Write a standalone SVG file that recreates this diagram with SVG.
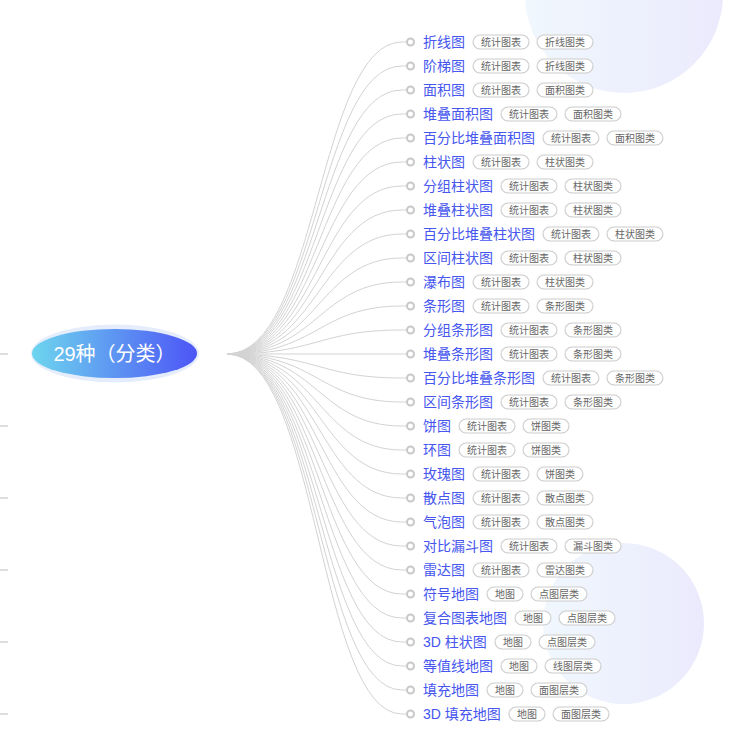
<svg xmlns="http://www.w3.org/2000/svg" width="737" height="736" viewBox="0 0 737 736">
<defs>
<linearGradient id="bg" x1="0" y1="0" x2="1" y2="0"><stop offset="0" stop-color="#f0f7fd"/><stop offset="1" stop-color="#ebeafd"/></linearGradient>
<linearGradient id="rootg" x1="0" y1="0" x2="1" y2="0"><stop offset="0" stop-color="#6dd5ee"/><stop offset="1" stop-color="#4d55f6"/></linearGradient>
<style>
.edge{fill:none;stroke:#d3d3d3;stroke-width:1}
.stub{stroke:#d3d3d3;stroke-width:1.5}
.dot{fill:#fff;stroke:#c8c8c8;stroke-width:2}
.lbl{font-family:"Liberation Sans","Noto Sans CJK SC",sans-serif;font-size:14px;fill:#4656ee;dominant-baseline:central}
.tag{fill:#fff;stroke:#cccccc;stroke-width:1.1}
.tt{font-family:"Liberation Sans","Noto Sans CJK SC",sans-serif;font-size:10px;fill:#666;text-anchor:middle;dominant-baseline:central}
</style>
</defs>
<rect width="737" height="736" fill="#fff"/>
<circle cx="624" cy="-6" r="99" fill="url(#bg)"/>
<circle cx="623.5" cy="623.5" r="80.5" fill="url(#bg)"/>
<g id="connectors">
<line class="stub" x1="0" y1="354" x2="8" y2="354"/>
<line class="stub" x1="0" y1="426" x2="8" y2="426"/>
<line class="stub" x1="0" y1="498" x2="8" y2="498"/>
<line class="stub" x1="0" y1="570" x2="8" y2="570"/>
<line class="stub" x1="0" y1="642" x2="8" y2="642"/>
<line class="stub" x1="0" y1="714" x2="8" y2="714"/>
<path class="edge" d="M227 354C318 354 318 42 402 42L407 42"/>
<path class="edge" d="M227 354C318 354 318 66 402 66L407 66"/>
<path class="edge" d="M227 354C318 354 318 90 402 90L407 90"/>
<path class="edge" d="M227 354C318 354 318 114 402 114L407 114"/>
<path class="edge" d="M227 354C318 354 318 138 402 138L407 138"/>
<path class="edge" d="M227 354C318 354 318 162 402 162L407 162"/>
<path class="edge" d="M227 354C318 354 318 186 402 186L407 186"/>
<path class="edge" d="M227 354C318 354 318 210 402 210L407 210"/>
<path class="edge" d="M227 354C318 354 318 234 402 234L407 234"/>
<path class="edge" d="M227 354C318 354 318 258 402 258L407 258"/>
<path class="edge" d="M227 354C318 354 318 282 402 282L407 282"/>
<path class="edge" d="M227 354C318 354 318 306 402 306L407 306"/>
<path class="edge" d="M227 354C318 354 318 330 402 330L407 330"/>
<path class="edge" d="M227 354L407 354"/>
<path class="edge" d="M227 354C318 354 318 378 402 378L407 378"/>
<path class="edge" d="M227 354C318 354 318 402 402 402L407 402"/>
<path class="edge" d="M227 354C318 354 318 426 402 426L407 426"/>
<path class="edge" d="M227 354C318 354 318 450 402 450L407 450"/>
<path class="edge" d="M227 354C318 354 318 474 402 474L407 474"/>
<path class="edge" d="M227 354C318 354 318 498 402 498L407 498"/>
<path class="edge" d="M227 354C318 354 318 522 402 522L407 522"/>
<path class="edge" d="M227 354C318 354 318 546 402 546L407 546"/>
<path class="edge" d="M227 354C318 354 318 570 402 570L407 570"/>
<path class="edge" d="M227 354C318 354 318 594 402 594L407 594"/>
<path class="edge" d="M227 354C318 354 318 618 402 618L407 618"/>
<path class="edge" d="M227 354C318 354 318 642 402 642L407 642"/>
<path class="edge" d="M227 354C318 354 318 666 402 666L407 666"/>
<path class="edge" d="M227 354C318 354 318 690 402 690L407 690"/>
<path class="edge" d="M227 354C318 354 318 714 402 714L407 714"/>
</g>
<g id="root">
<ellipse cx="115" cy="353.5" rx="84" ry="29" fill="#e5edfc"/>
<ellipse cx="114.5" cy="353.5" rx="82.5" ry="24.5" fill="url(#rootg)"/>
<text x="114.5" y="354" text-anchor="middle" dominant-baseline="central" font-family="'Liberation Sans','Noto Sans CJK SC',sans-serif" font-size="20" fill="#fff">29种（分类）</text>
</g>
<g id="n1" transform="translate(0,42)"><circle class="dot" cx="410.5" cy="0" r="3.5"/><text class="lbl" x="423" y="0">折线图</text><rect class="tag" x="473" y="-7" width="56" height="14" rx="7"/><text class="tt" x="501" y="0">统计图表</text><rect class="tag" x="537" y="-7" width="56" height="14" rx="7"/><text class="tt" x="565" y="0">折线图类</text></g>
<g id="n2" transform="translate(0,66)"><circle class="dot" cx="410.5" cy="0" r="3.5"/><text class="lbl" x="423" y="0">阶梯图</text><rect class="tag" x="473" y="-7" width="56" height="14" rx="7"/><text class="tt" x="501" y="0">统计图表</text><rect class="tag" x="537" y="-7" width="56" height="14" rx="7"/><text class="tt" x="565" y="0">折线图类</text></g>
<g id="n3" transform="translate(0,90)"><circle class="dot" cx="410.5" cy="0" r="3.5"/><text class="lbl" x="423" y="0">面积图</text><rect class="tag" x="473" y="-7" width="56" height="14" rx="7"/><text class="tt" x="501" y="0">统计图表</text><rect class="tag" x="537" y="-7" width="56" height="14" rx="7"/><text class="tt" x="565" y="0">面积图类</text></g>
<g id="n4" transform="translate(0,114)"><circle class="dot" cx="410.5" cy="0" r="3.5"/><text class="lbl" x="423" y="0">堆叠面积图</text><rect class="tag" x="501" y="-7" width="56" height="14" rx="7"/><text class="tt" x="529" y="0">统计图表</text><rect class="tag" x="565" y="-7" width="56" height="14" rx="7"/><text class="tt" x="593" y="0">面积图类</text></g>
<g id="n5" transform="translate(0,138)"><circle class="dot" cx="410.5" cy="0" r="3.5"/><text class="lbl" x="423" y="0">百分比堆叠面积图</text><rect class="tag" x="543" y="-7" width="56" height="14" rx="7"/><text class="tt" x="571" y="0">统计图表</text><rect class="tag" x="607" y="-7" width="56" height="14" rx="7"/><text class="tt" x="635" y="0">面积图类</text></g>
<g id="n6" transform="translate(0,162)"><circle class="dot" cx="410.5" cy="0" r="3.5"/><text class="lbl" x="423" y="0">柱状图</text><rect class="tag" x="473" y="-7" width="56" height="14" rx="7"/><text class="tt" x="501" y="0">统计图表</text><rect class="tag" x="537" y="-7" width="56" height="14" rx="7"/><text class="tt" x="565" y="0">柱状图类</text></g>
<g id="n7" transform="translate(0,186)"><circle class="dot" cx="410.5" cy="0" r="3.5"/><text class="lbl" x="423" y="0">分组柱状图</text><rect class="tag" x="501" y="-7" width="56" height="14" rx="7"/><text class="tt" x="529" y="0">统计图表</text><rect class="tag" x="565" y="-7" width="56" height="14" rx="7"/><text class="tt" x="593" y="0">柱状图类</text></g>
<g id="n8" transform="translate(0,210)"><circle class="dot" cx="410.5" cy="0" r="3.5"/><text class="lbl" x="423" y="0">堆叠柱状图</text><rect class="tag" x="501" y="-7" width="56" height="14" rx="7"/><text class="tt" x="529" y="0">统计图表</text><rect class="tag" x="565" y="-7" width="56" height="14" rx="7"/><text class="tt" x="593" y="0">柱状图类</text></g>
<g id="n9" transform="translate(0,234)"><circle class="dot" cx="410.5" cy="0" r="3.5"/><text class="lbl" x="423" y="0">百分比堆叠柱状图</text><rect class="tag" x="543" y="-7" width="56" height="14" rx="7"/><text class="tt" x="571" y="0">统计图表</text><rect class="tag" x="607" y="-7" width="56" height="14" rx="7"/><text class="tt" x="635" y="0">柱状图类</text></g>
<g id="n10" transform="translate(0,258)"><circle class="dot" cx="410.5" cy="0" r="3.5"/><text class="lbl" x="423" y="0">区间柱状图</text><rect class="tag" x="501" y="-7" width="56" height="14" rx="7"/><text class="tt" x="529" y="0">统计图表</text><rect class="tag" x="565" y="-7" width="56" height="14" rx="7"/><text class="tt" x="593" y="0">柱状图类</text></g>
<g id="n11" transform="translate(0,282)"><circle class="dot" cx="410.5" cy="0" r="3.5"/><text class="lbl" x="423" y="0">瀑布图</text><rect class="tag" x="473" y="-7" width="56" height="14" rx="7"/><text class="tt" x="501" y="0">统计图表</text><rect class="tag" x="537" y="-7" width="56" height="14" rx="7"/><text class="tt" x="565" y="0">柱状图类</text></g>
<g id="n12" transform="translate(0,306)"><circle class="dot" cx="410.5" cy="0" r="3.5"/><text class="lbl" x="423" y="0">条形图</text><rect class="tag" x="473" y="-7" width="56" height="14" rx="7"/><text class="tt" x="501" y="0">统计图表</text><rect class="tag" x="537" y="-7" width="56" height="14" rx="7"/><text class="tt" x="565" y="0">条形图类</text></g>
<g id="n13" transform="translate(0,330)"><circle class="dot" cx="410.5" cy="0" r="3.5"/><text class="lbl" x="423" y="0">分组条形图</text><rect class="tag" x="501" y="-7" width="56" height="14" rx="7"/><text class="tt" x="529" y="0">统计图表</text><rect class="tag" x="565" y="-7" width="56" height="14" rx="7"/><text class="tt" x="593" y="0">条形图类</text></g>
<g id="n14" transform="translate(0,354)"><circle class="dot" cx="410.5" cy="0" r="3.5"/><text class="lbl" x="423" y="0">堆叠条形图</text><rect class="tag" x="501" y="-7" width="56" height="14" rx="7"/><text class="tt" x="529" y="0">统计图表</text><rect class="tag" x="565" y="-7" width="56" height="14" rx="7"/><text class="tt" x="593" y="0">条形图类</text></g>
<g id="n15" transform="translate(0,378)"><circle class="dot" cx="410.5" cy="0" r="3.5"/><text class="lbl" x="423" y="0">百分比堆叠条形图</text><rect class="tag" x="543" y="-7" width="56" height="14" rx="7"/><text class="tt" x="571" y="0">统计图表</text><rect class="tag" x="607" y="-7" width="56" height="14" rx="7"/><text class="tt" x="635" y="0">条形图类</text></g>
<g id="n16" transform="translate(0,402)"><circle class="dot" cx="410.5" cy="0" r="3.5"/><text class="lbl" x="423" y="0">区间条形图</text><rect class="tag" x="501" y="-7" width="56" height="14" rx="7"/><text class="tt" x="529" y="0">统计图表</text><rect class="tag" x="565" y="-7" width="56" height="14" rx="7"/><text class="tt" x="593" y="0">条形图类</text></g>
<g id="n17" transform="translate(0,426)"><circle class="dot" cx="410.5" cy="0" r="3.5"/><text class="lbl" x="423" y="0">饼图</text><rect class="tag" x="459" y="-7" width="56" height="14" rx="7"/><text class="tt" x="487" y="0">统计图表</text><rect class="tag" x="523" y="-7" width="46" height="14" rx="7"/><text class="tt" x="546" y="0">饼图类</text></g>
<g id="n18" transform="translate(0,450)"><circle class="dot" cx="410.5" cy="0" r="3.5"/><text class="lbl" x="423" y="0">环图</text><rect class="tag" x="459" y="-7" width="56" height="14" rx="7"/><text class="tt" x="487" y="0">统计图表</text><rect class="tag" x="523" y="-7" width="46" height="14" rx="7"/><text class="tt" x="546" y="0">饼图类</text></g>
<g id="n19" transform="translate(0,474)"><circle class="dot" cx="410.5" cy="0" r="3.5"/><text class="lbl" x="423" y="0">玫瑰图</text><rect class="tag" x="473" y="-7" width="56" height="14" rx="7"/><text class="tt" x="501" y="0">统计图表</text><rect class="tag" x="537" y="-7" width="46" height="14" rx="7"/><text class="tt" x="560" y="0">饼图类</text></g>
<g id="n20" transform="translate(0,498)"><circle class="dot" cx="410.5" cy="0" r="3.5"/><text class="lbl" x="423" y="0">散点图</text><rect class="tag" x="473" y="-7" width="56" height="14" rx="7"/><text class="tt" x="501" y="0">统计图表</text><rect class="tag" x="537" y="-7" width="56" height="14" rx="7"/><text class="tt" x="565" y="0">散点图类</text></g>
<g id="n21" transform="translate(0,522)"><circle class="dot" cx="410.5" cy="0" r="3.5"/><text class="lbl" x="423" y="0">气泡图</text><rect class="tag" x="473" y="-7" width="56" height="14" rx="7"/><text class="tt" x="501" y="0">统计图表</text><rect class="tag" x="537" y="-7" width="56" height="14" rx="7"/><text class="tt" x="565" y="0">散点图类</text></g>
<g id="n22" transform="translate(0,546)"><circle class="dot" cx="410.5" cy="0" r="3.5"/><text class="lbl" x="423" y="0">对比漏斗图</text><rect class="tag" x="501" y="-7" width="56" height="14" rx="7"/><text class="tt" x="529" y="0">统计图表</text><rect class="tag" x="565" y="-7" width="56" height="14" rx="7"/><text class="tt" x="593" y="0">漏斗图类</text></g>
<g id="n23" transform="translate(0,570)"><circle class="dot" cx="410.5" cy="0" r="3.5"/><text class="lbl" x="423" y="0">雷达图</text><rect class="tag" x="473" y="-7" width="56" height="14" rx="7"/><text class="tt" x="501" y="0">统计图表</text><rect class="tag" x="537" y="-7" width="56" height="14" rx="7"/><text class="tt" x="565" y="0">雷达图类</text></g>
<g id="n24" transform="translate(0,594)"><circle class="dot" cx="410.5" cy="0" r="3.5"/><text class="lbl" x="423" y="0">符号地图</text><rect class="tag" x="487" y="-7" width="36" height="14" rx="7"/><text class="tt" x="505" y="0">地图</text><rect class="tag" x="531" y="-7" width="56" height="14" rx="7"/><text class="tt" x="559" y="0">点图层类</text></g>
<g id="n25" transform="translate(0,618)"><circle class="dot" cx="410.5" cy="0" r="3.5"/><text class="lbl" x="423" y="0">复合图表地图</text><rect class="tag" x="515" y="-7" width="36" height="14" rx="7"/><text class="tt" x="533" y="0">地图</text><rect class="tag" x="559" y="-7" width="56" height="14" rx="7"/><text class="tt" x="587" y="0">点图层类</text></g>
<g id="n26" transform="translate(0,642)"><circle class="dot" cx="410.5" cy="0" r="3.5"/><text class="lbl" x="423" y="0">3D 柱状图</text><rect class="tag" x="495" y="-7" width="36" height="14" rx="7"/><text class="tt" x="513" y="0">地图</text><rect class="tag" x="539" y="-7" width="56" height="14" rx="7"/><text class="tt" x="567" y="0">点图层类</text></g>
<g id="n27" transform="translate(0,666)"><circle class="dot" cx="410.5" cy="0" r="3.5"/><text class="lbl" x="423" y="0">等值线地图</text><rect class="tag" x="501" y="-7" width="36" height="14" rx="7"/><text class="tt" x="519" y="0">地图</text><rect class="tag" x="545" y="-7" width="56" height="14" rx="7"/><text class="tt" x="573" y="0">线图层类</text></g>
<g id="n28" transform="translate(0,690)"><circle class="dot" cx="410.5" cy="0" r="3.5"/><text class="lbl" x="423" y="0">填充地图</text><rect class="tag" x="487" y="-7" width="36" height="14" rx="7"/><text class="tt" x="505" y="0">地图</text><rect class="tag" x="531" y="-7" width="56" height="14" rx="7"/><text class="tt" x="559" y="0">面图层类</text></g>
<g id="n29" transform="translate(0,714)"><circle class="dot" cx="410.5" cy="0" r="3.5"/><text class="lbl" x="423" y="0">3D 填充地图</text><rect class="tag" x="509" y="-7" width="36" height="14" rx="7"/><text class="tt" x="527" y="0">地图</text><rect class="tag" x="553" y="-7" width="56" height="14" rx="7"/><text class="tt" x="581" y="0">面图层类</text></g>
</svg>
